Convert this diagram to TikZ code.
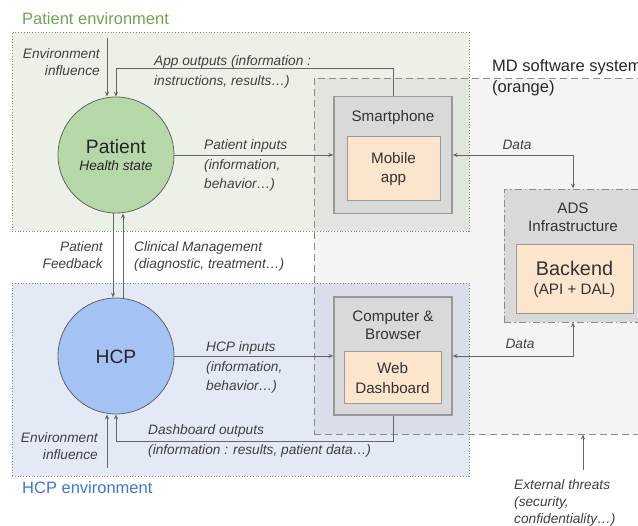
\documentclass[tikz,border=0pt]{standalone}
\usepackage{fontspec}
\setmainfont{Liberation Sans}
\usetikzlibrary{positioning}
\usetikzlibrary{arrows.meta, calc}

\definecolor{envgreen}{HTML}{EBF1E7}
\definecolor{envblue}{HTML}{E4E9F6}
\definecolor{patientfill}{HTML}{B6D7A8}
\definecolor{hcpfill}{HTML}{A4C2F4}
\definecolor{devgrey}{HTML}{D9D9D9}
\definecolor{softorange}{HTML}{FCE5CD}
\definecolor{titlegreen}{HTML}{6AA84F}
\definecolor{titleblue}{HTML}{3C78D8}

\begin{document}
\begin{tikzpicture}
  [
    x=1pt, y=-1pt,
    >={Stealth[length=5pt, width=4pt]},
    region/.style   = {draw=black!45, dotted, line width=0.8pt, rectangle, inner sep=0pt},
    actor/.style    = {draw=black!60, circle, line width=0.8pt, minimum size=116pt, inner sep=0pt},
    device/.style   = {draw=black!40, fill=devgrey, line width=1.3pt, rectangle, inner sep=0pt},
    soft/.style     = {draw=black!40, fill=softorange, line width=1pt, rectangle, inner sep=0pt, align=center, text=black!80, font=\fontsize{15.2}{19.5}\selectfont},
    devlabel/.style = {inner sep=0pt, align=center, text=black!80, font=\fontsize{15.2}{18.5}\selectfont},
    title/.style    = {inner sep=0pt, anchor=west, font=\fontsize{16.5}{20}\selectfont},
    flow/.style     = {draw=black!60, line width=0.8pt},
    note/.style     = {inner sep=0pt, text=black!75, font=\fontsize{13.7}{19.5}\selectfont\itshape},
    tightnote/.style = {note, font=\fontsize{13.7}{17}\selectfont\itshape},
  ]

  \useasboundingbox (0,0) rectangle (638,526);

  % the two environments
  \node (patientenv) at (240.5,131.5) [region, fill=envgreen, minimum width=457pt, minimum height=199pt] {};
  \node (hcpenv) at (240.5,379.5) [region, fill=envblue, minimum width=457pt, minimum height=193pt] {};
  \node (patientenvlbl) at (22,19) [title, text=titlegreen] {Patient environment};
  \node (hcpenvlbl) at (22,488) [title, text=titleblue] {HCP environment};

  % software system boundary
  \node (mdsys) at (478,256) [draw=black!45, dash pattern=on 7pt off 4pt, line width=0.8pt, fill=black, fill opacity=0.045, minimum width=328pt, minimum height=356pt, inner sep=0pt] {};
  \node (mdsyslbl) at (492,59) [anchor=north west, inner sep=0pt, align=left, text=black!85, font=\fontsize{16.5}{21}\selectfont] {MD software system\\(orange)};

  % actors
  \node (patient) at (116,155) [actor, fill=patientfill] {};
  \node (patientname) at (116,147) [inner sep=0pt, text=black!85, font=\fontsize{19.3}{22}\selectfont] {Patient};
  \node (patientstate) at (116,166) [inner sep=0pt, text=black!85, font=\fontsize{13.7}{16}\selectfont\itshape] {Health state};

  \node (hcp) at (116,356) [actor, fill=hcpfill] {};
  \node (hcpname) at (116,357) [inner sep=0pt, text=black!85, font=\fontsize{19.3}{22}\selectfont] {HCP};

  % devices and software
  \node (phone) at (393,155) [device, minimum width=118pt, minimum height=117pt] {};
  \node (phonelbl) [devlabel, below=14pt of phone.north] {Smartphone};
  \node (app) at (393.5,169) [soft, minimum width=93pt, minimum height=64pt] {Mobile\\app};

  \node (pc) at (393,356) [device, minimum width=118pt, minimum height=118pt] {};
  \node (pclbl) [devlabel, below=14pt of pc.north] {Computer \&\\Browser};
  \node (dash) at (392.5,378) [soft, minimum width=97pt, minimum height=52pt] {Web\\Dashboard};

  \node (ads) at (573,255.5) [device, line width=0.8pt, draw=black!45, dash pattern=on 7pt off 3pt on 1.5pt off 3pt, minimum width=138pt, minimum height=133pt] {};
  \node (adslbl) [devlabel, below=14pt of ads.north] {ADS\\Infrastructure};
  \node (backend) at (574.5,279.5) [soft, minimum width=117pt, minimum height=69pt] {{\fontsize{19.8}{21}\selectfont Backend}\\(API + DAL)};

  % flows around the patient
  \coordinate (envin) at (107,38);
  \draw[flow, ->] (envin) -- (envin |- patient.north);
  \draw[flow, ->] (phone.north) -- ++(0,-27) -| (patient.north);
  \draw[flow, ->] (patient.east) -- (phone.west);
  \draw[flow, <->] (phone.east) -| (ads.north);

  \draw[flow, ->] ([xshift=-3pt]patient.south) -- ([xshift=-3pt]hcp.north);
  \draw[flow, ->] ([xshift=7pt]hcp.north) -- ([xshift=7pt]patient.south);

  % flows around the HCP
  \draw[flow, ->] (hcp.east) -- (pc.west);
  \draw[flow, <->] (pc.east) -| (ads.south);
  \draw[flow, ->] (pc.south) -- ++(0,26) -| (hcp.south);
  \coordinate (envinbot) at (107,468);
  \draw[flow, ->] (envinbot) -- (envinbot |- hcp.south);

  \coordinate (threat) at (583,470);
  \draw[flow, ->] (threat) -- (threat |- mdsys.south);

  % flow labels
  \node (envinlbl) at (100,48.5) [tightnote, anchor=north east, align=right] {Environment\\influence};
  \node (appoutlbl) at (154,55.5) [note, anchor=north west, align=left] {App outputs (information :\\instructions, results\dots)};
  \node (patinlbl) at (204,139.5) [note, anchor=north west, align=left] {Patient inputs\\(information,\\behavior\dots)};
  \node (datatoplbl) at (517,145) [note] {Data};
  \node (feedbacklbl) at (103,241.5) [tightnote, anchor=north east, align=right] {Patient\\Feedback};
  \node (clinicallbl) at (134,241.5) [tightnote, anchor=north west, align=left] {Clinical Management\\(diagnostic, treatment\dots)};
  \node (hcpinlbl) at (206,341.5) [note, anchor=north west, align=left] {HCP inputs\\(information,\\behavior\dots)};
  \node (databotlbl) at (520,344) [note] {Data};
  \node (dashoutlbl) at (148,424.5) [note, anchor=north west, align=left] {Dashboard outputs\\(information : results, patient data\dots)};
  \node (envinbotlbl) at (98,432.5) [tightnote, anchor=north east, align=right] {Environment\\influence};
  \node (threatlbl) at (514,479.5) [tightnote, anchor=north west, align=left] {External threats\\(security,\\confidentiality\dots)};

\end{tikzpicture}
\end{document}
